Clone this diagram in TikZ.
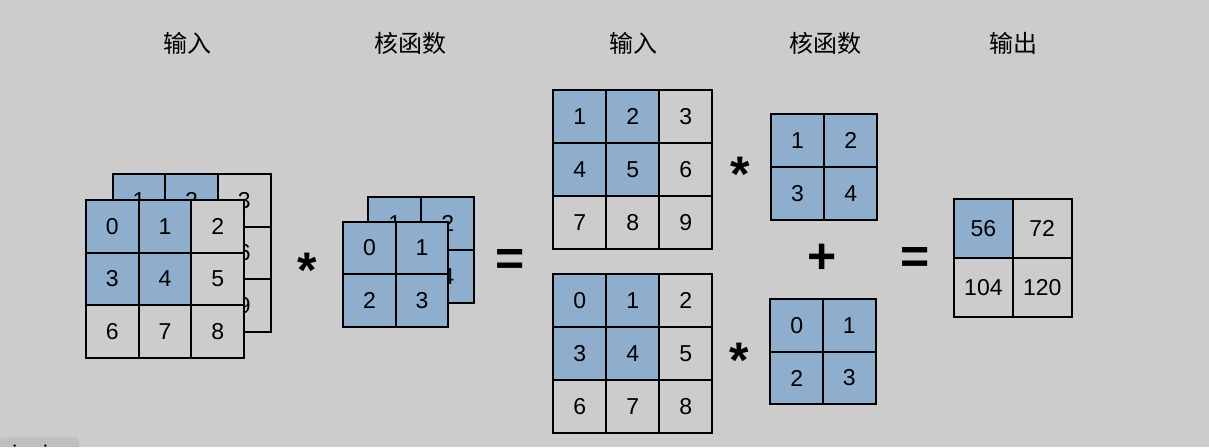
\documentclass[tikz,border=0pt]{standalone}
\usepackage{fontspec}
\setmainfont{Liberation Sans}
\newfontfamily\cjk{Noto Sans CJK SC}
\definecolor{bgC}{RGB}{204,204,204}
\definecolor{blC}{RGB}{143,174,205}
\definecolor{tabC}{RGB}{191,191,191}
\tikzset{
  cell/.style={draw=black,line width=2pt,inner sep=0pt,font=\fontsize{23}{27}\selectfont},
  title/.style={font=\cjk\fontsize{24}{28}\selectfont,inner sep=0pt},
  op/.style={font=\bfseries\fontsize{50}{60}\selectfont,inner sep=0pt,anchor=base},
}
\newcommand{\mkgrid}[5]{%
  \foreach \r/\c/\v/\s in {#5}{%
    \node[cell,fill=\s,minimum size=#4pt] (#1-\r-\c) at ({#2+(\c-0.5)*#4},{#3+(\r-0.5)*#4}) {\v};
  }%
}
\begin{document}
\begin{tikzpicture}[x=1pt,y=-1pt]
\fill[bgC] (0,0) rectangle (1209,447);
\useasboundingbox (0,0) rectangle (1209,447);
% titles
\node[title] (t1) at (187,43.5) {输入};
\node[title] (t2) at (410,43.5) {核函数};
\node[title] (t3) at (633,43.5) {输入};
\node[title] (t4) at (825,43.5) {核函数};
\node[title] (t5) at (1013,43.5) {输出};
% left input (two channels)
\mkgrid{ib}{112.7}{174}{52.6}{1/1/1/blC,1/2/2/blC,1/3/3/bgC,2/1/4/blC,2/2/5/blC,2/3/6/bgC,3/1/7/bgC,3/2/8/bgC,3/3/9/bgC}
\mkgrid{if}{86}{200}{52.7}{1/1/0/blC,1/2/1/blC,1/3/2/bgC,2/1/3/blC,2/2/4/blC,2/3/5/bgC,3/1/6/bgC,3/2/7/bgC,3/3/8/bgC}
% left kernel (two channels)
\mkgrid{kb}{368.3}{196.7}{53}{1/1/1/blC,1/2/2/blC,2/1/3/blC,2/2/4/blC}
\mkgrid{kf}{343.3}{221.7}{52.5}{1/1/0/blC,1/2/1/blC,2/1/2/blC,2/2/3/blC}
% middle top
\mkgrid{mt}{553.3}{90}{53}{1/1/1/blC,1/2/2/blC,1/3/3/bgC,2/1/4/blC,2/2/5/blC,2/3/6/bgC,3/1/7/bgC,3/2/8/bgC,3/3/9/bgC}
\mkgrid{nt}{771}{114}{53.1}{1/1/1/blC,1/2/2/blC,2/1/3/blC,2/2/4/blC}
% middle bottom
\mkgrid{mb}{553.3}{274}{53}{1/1/0/blC,1/2/1/blC,1/3/2/bgC,2/1/3/blC,2/2/4/blC,2/3/5/bgC,3/1/6/bgC,3/2/7/bgC,3/3/8/bgC}
\mkgrid{nb}{770.3}{299}{52.7}{1/1/0/blC,1/2/1/blC,2/1/2/blC,2/2/3/blC}
% output
\mkgrid{out}{954}{199.3}{58.8}{1/1/56/blC,1/2/72/bgC,2/1/104/bgC,2/2/120/bgC}
% operators
\node[op] (s1) at (306.8,287.5) {*};
\node[op] (s2) at (740.5,191) {*};
\node[op] (s3) at (739,377.5) {*};
\node[op] (e1) at (510,275.5) {=};
\node[op] (p1) at (822.5,273.5) {+};
\node[op] (e2) at (915,273.2) {=};
% corner tab
\fill[tabC] (0,447) [rounded corners=3pt] -- (0,437.5) -- (79,437.5) [sharp corners] -- (79,447) -- cycle;
\fill[black] (14.7,445.5) circle (1.3);
\fill[black] (45.3,445.5) circle (1.3);
\end{tikzpicture}
\end{document}
